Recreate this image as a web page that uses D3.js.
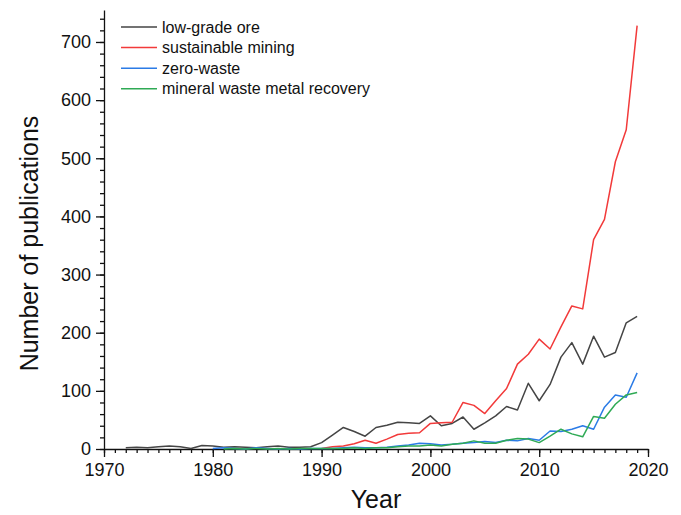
<!DOCTYPE html>
<html lang="en">
<head>
<meta charset="utf-8">
<title>Publications per year</title>
<script src="https://cdnjs.cloudflare.com/ajax/libs/d3/7.8.5/d3.min.js"></script>
<style>
    body { margin: 0; background: #fff; }
    svg text { font-family: "Liberation Sans", Arial, sans-serif; fill: #111; }
</style>
</head>
<body>
<div id="chart"></div>
<script>
    // values
    var lowGradeYears = d3.range(1972, 2020);
    var lowGradeOre = [2, 3, 2, 4, 5, 4, 1, 6, 5, 3, 4, 3, 2, 4, 5, 3, 3, 4,
        11, 24, 37, 30, 22, 37, 41, 46, 45, 44, 57, 40, 44, 55, 34, 45, 57, 73, 67, 113,
        83, 111, 158, 183, 146, 194, 158, 166, 217, 228];

    var sustainableYears = d3.range(1990, 2020);
    var sustainableMining = [1, 4, 5, 9, 15, 10, 17, 25, 27, 28,
        44, 45, 46, 80, 75, 61, 83, 104, 146, 163,
        189, 172, 210, 246, 241, 360, 395, 494, 549, 728];

    var zeroWasteYears = d3.range(1980, 2020);
    var zeroWaste = [1, 2, 1, 0, 2, 1, 0, 1, 0, 1,
        1, 1, 2, 3, 2, 2, 3, 5, 7, 10,
        9, 7, 8, 10, 11, 13, 11, 15, 14, 18,
        15, 31, 30, 34, 40, 34, 72, 93, 89, 131];

    var recoveryYears = d3.range(1981, 2020);
    var mineralRecovery = [0, 1, 0, 1, 0, 1, 0, 1, 1,
        1, 1, 1, 2, 1, 2, 2, 4, 5, 5,
        7, 5, 8, 10, 14, 10, 10, 15, 18, 17,
        11, 22, 34, 26, 21, 56, 53, 77, 93, 97];

    var series = [
        {name: "low-grade ore", years: lowGradeYears, values: lowGradeOre, color: "#454545"},
        {name: "sustainable mining", years: sustainableYears, values: sustainableMining, color: "#f23a3a"},
        {name: "zero-waste", years: zeroWasteYears, values: zeroWaste, color: "#2b7be6"},
        {name: "mineral waste metal recovery", years: recoveryYears, values: mineralRecovery, color: "#2faa55"}
    ];

    var xTicks = [1970, 1980, 1990, 2000, 2010, 2020];
    var yTicks = [0, 100, 200, 300, 400, 500, 600, 700];

    var W = 681, H = 515;
    var margin = {top: 10, right: 33, bottom: 66, left: 104};

    var svg = d3.select("#chart").append("svg")
        .attr("width", W)
        .attr("height", H);

    var x = d3.scaleLinear().domain([1970, 2020]).range([margin.left, W - margin.right]);
    var y = d3.scaleLinear().domain([0, 755]).range([H - margin.bottom, margin.top]);

    // minor ticks first, majors on top
    svg.append("g")
        .attr("transform", "translate(0," + y(0) + ")")
        .call(d3.axisBottom(x).tickValues(d3.range(1970, 2021)).tickSize(4).tickFormat(""))
        .call(g => g.select(".domain").remove());
    svg.append("g")
        .attr("transform", "translate(" + x(1970) + ",0)")
        .call(d3.axisLeft(y).tickValues(d3.range(0, 751, 20)).tickSize(4).tickFormat(""))
        .call(g => g.select(".domain").remove());

    var xAxis = svg.append("g")
        .attr("transform", "translate(0," + y(0) + ")")
        .call(d3.axisBottom(x).tickValues(xTicks).tickFormat(d3.format("d")).tickSize(8).tickSizeOuter(0).tickPadding(6));
    var yAxis = svg.append("g")
        .attr("transform", "translate(" + x(1970) + ",0)")
        .call(d3.axisLeft(y).tickValues(yTicks).tickSize(8).tickSizeOuter(0).tickPadding(5));

    svg.selectAll(".domain, .tick line").attr("stroke", "#111").attr("stroke-width", 1.3);
    xAxis.selectAll("text").style("font-size", "18px");
    yAxis.selectAll("text").style("font-size", "18px");

    var line = d3.line()
        .x(d => x(d[0]))
        .y(d => y(d[1]));

    svg.append("g").selectAll("path")
        .data(series)
        .join("path")
        .attr("fill", "none")
        .attr("stroke", d => d.color)
        .attr("stroke-width", 1.5)
        .attr("stroke-linejoin", "round")
        .attr("d", d => line(d.years.map((yr, i) => [yr, d.values[i]])));

    // axis titles
    svg.append("text")
        .attr("x", (x(1970) + x(2020)) / 2)
        .attr("y", 508)
        .attr("text-anchor", "middle")
        .style("font-size", "25px")
        .text("Year");

    svg.append("text")
        .attr("transform", "translate(38," + ((y(0) + y(755)) / 2 + 14) + ") rotate(-90)")
        .attr("text-anchor", "middle")
        .style("font-size", "25px")
        .text("Number of publications");

    // legend
    var legend = svg.append("g").selectAll("g")
        .data(series)
        .join("g")
        .attr("transform", (d, i) => "translate(121," + (27 + i * 20.6) + ")");
    legend.append("line")
        .attr("x1", 0).attr("x2", 36)
        .attr("stroke", d => d.color)
        .attr("stroke-width", 1.5);
    legend.append("text")
        .attr("x", 41)
        .attr("dy", "0.35em")
        .style("font-size", "16px")
        .text(d => d.name);
</script>
</body>
</html>
